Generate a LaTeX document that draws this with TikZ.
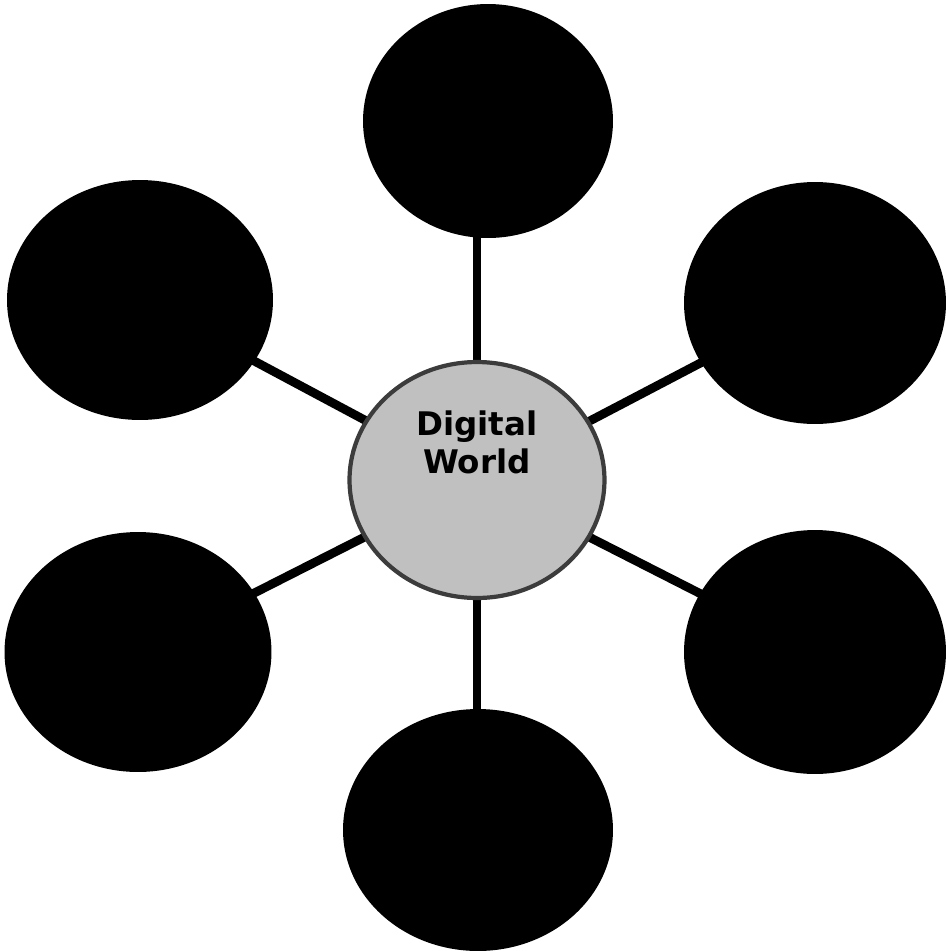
\documentclass[tikz,border=0pt]{standalone}
\usepackage{fontspec}
\setmainfont{DejaVu Sans}
\usetikzlibrary{shapes.geometric,backgrounds}
\definecolor{hubfill}{RGB}{192,192,192}
\definecolor{hubedge}{RGB}{60,60,60}
\tikzset{
  outer/.style={ellipse, fill=black, draw=none, inner sep=0pt},
  hub/.style={ellipse, fill=hubfill, draw=hubedge, line width=2.4pt, inner sep=0pt,
    minimum width=5.1cm, minimum height=4.72cm},
  spoke/.style={line width=5pt, draw=black},
  hubtext/.style={font=\bfseries\fontsize{18.5}{21.5}\selectfont, align=center, inner sep=0pt}
}
\begin{document}
\begin{tikzpicture}[x=0.02cm,y=-0.02cm]
\useasboundingbox (0,0) rectangle (946,951);
\node[hub] (c) at (477,480) {};
\node[hubtext] (ct) at (477,442) {Digital\\World};
\node[outer, minimum width=5.0cm, minimum height=4.68cm] (t) at (488,121) {};
\node[outer, minimum width=5.32cm, minimum height=4.8cm] (ul) at (140,300) {};
\node[outer, minimum width=5.24cm, minimum height=4.84cm] (ur) at (815,303) {};
\node[outer, minimum width=5.34cm, minimum height=4.8cm] (ll) at (138,652) {};
\node[outer, minimum width=5.24cm, minimum height=4.88cm] (lr) at (815,652) {};
\node[outer, minimum width=5.4cm, minimum height=4.84cm] (b) at (478,830) {};
\begin{pgfonlayer}{background}
\draw[spoke] (c.center) -- (c.center |- t.center);
\draw[spoke] (c.center) -- (c.center |- b.center);
\draw[spoke] (c.center) -- (ul.center);
\draw[spoke] (c.center) -- (ur.center);
\draw[spoke] (c.center) -- (ll.center);
\draw[spoke] (c.center) -- (lr.center);
\end{pgfonlayer}
\end{tikzpicture}
\end{document}
